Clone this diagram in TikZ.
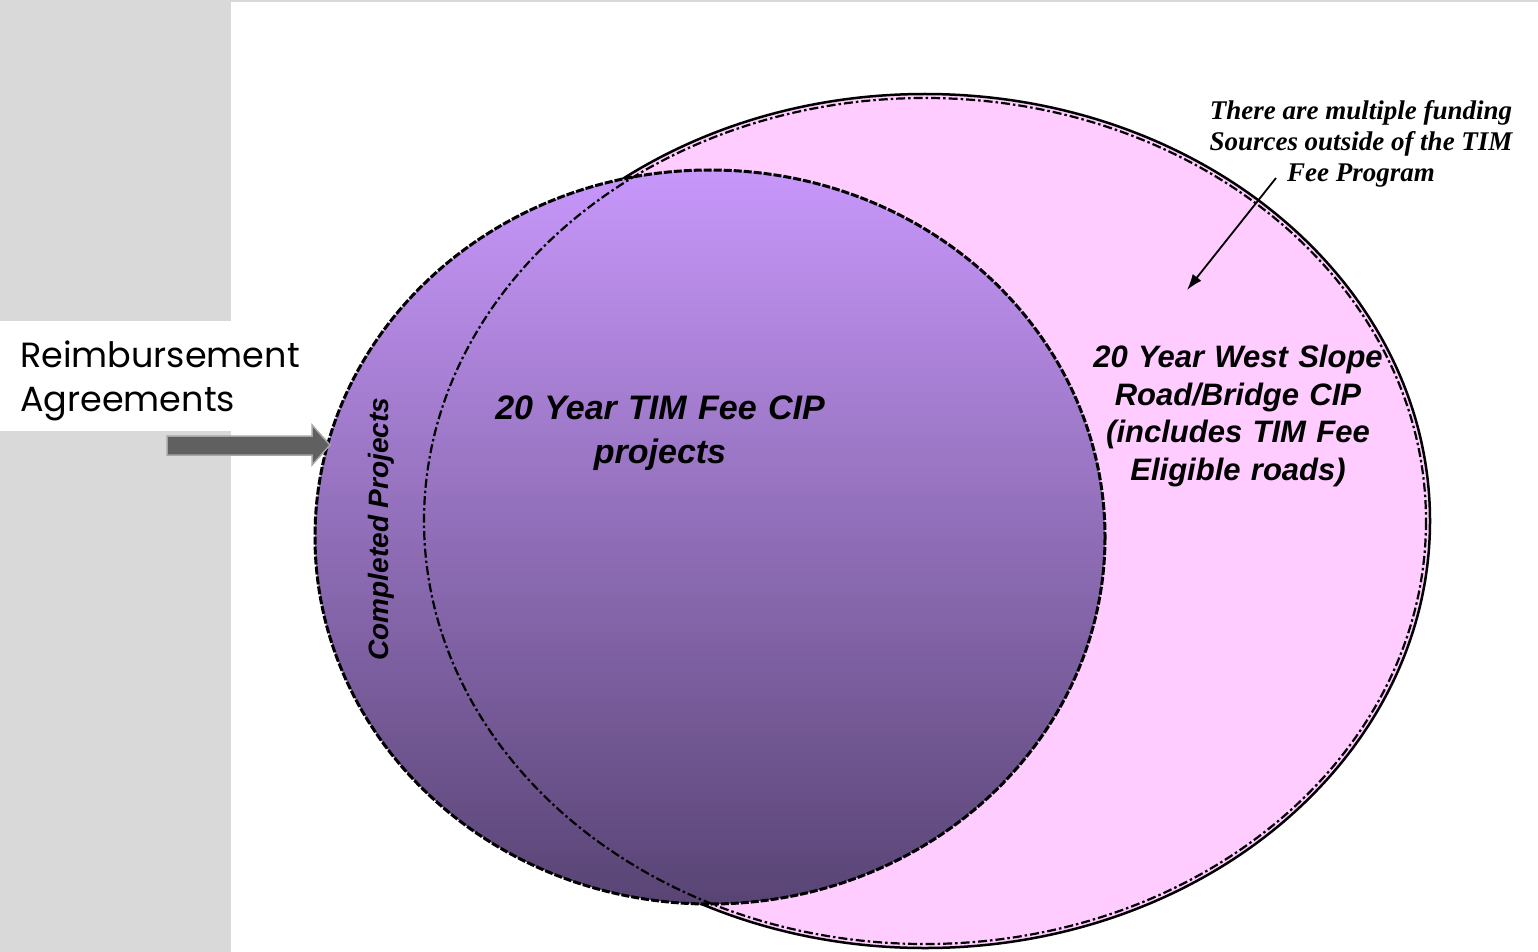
\documentclass[tikz,border=0pt]{standalone}
\usepackage{fontspec}
\newfontfamily\arialfont{Liberation Sans}
\newfontfamily\timesfont{Liberation Serif}
\newfontfamily\gothicfont{Poppins}
\usetikzlibrary{arrows.meta}
\definecolor{panelgray}{RGB}{217,217,217}
\definecolor{cippink}{RGB}{255,204,255}
\definecolor{timtop}{RGB}{199,151,250}
\definecolor{timbottom}{RGB}{88,68,116}
\definecolor{blockgray}{RGB}{96,96,96}

\begin{document}
\begin{tikzpicture}[x=1pt,y=-1pt,
  ciptext/.style 2 args={font=\arialfont\bfseries\itshape\fontsize{#1}{#2}\selectfont, align=center, inner sep=0},
  ringline/.style={line width=2.2pt, dash pattern=on 9pt off 3pt on 2.5pt off 3pt}]
\useasboundingbox (0,0) rectangle (1538,952);
\fill[white] (0,0) rectangle (1538,952);
\fill[panelgray] (0,0) rectangle (231,952);
\draw[panelgray,line width=2pt] (231,1) -- (1538,1);
\fill[white] (0,321) rectangle (231,431);

\filldraw[fill=cippink,draw=black,line width=2.5pt] (925,521) ellipse [x radius=505, y radius=427];
\shade[top color=timtop,bottom color=timbottom] (710,537) ellipse [x radius=395, y radius=367];
\draw[line width=3pt, dash pattern=on 8pt off 2pt] (710,537) ellipse [x radius=395, y radius=367];
\draw[ringline] (925,521) ellipse [x radius=501, y radius=423];

\node[font=\gothicfont\fontsize{35}{44}\selectfont, align=left, anchor=west, inner sep=0] (reimb) at (20,381) {Reimbursement\\Agreements};
\filldraw[fill=blockgray,draw=gray!70,line width=1.5pt] (167,436) -- (312,436) -- (312,425) -- (330,445) -- (312,465) -- (312,455) -- (167,455) -- cycle;

\node[ciptext={28}{30}, rotate=90] (completed) at (381,529) {Completed Projects};
\node[ciptext={34}{44}, text width=420pt] (timcip) at (660,433) {20 Year TIM Fee CIP\\projects};
\node[ciptext={31}{37.5}, text width=360pt] (westslope) at (1238,416) {20 Year West Slope\\Road/Bridge CIP\\(includes TIM Fee\\Eligible roads)};

\node[font=\timesfont\bfseries\itshape\fontsize{27}{31}\selectfont, align=center, inner sep=0] (funding) at (1361,144) {There are multiple funding\\Sources outside of the TIM\\Fee Program};
\coordinate (fundtail) at (1276,178);
\coordinate (fundhead) at (1187,290);
\draw[line width=1.8pt,-{Latex[length=16pt,width=11pt]}] (fundtail) -- (fundhead);
\end{tikzpicture}
\end{document}
